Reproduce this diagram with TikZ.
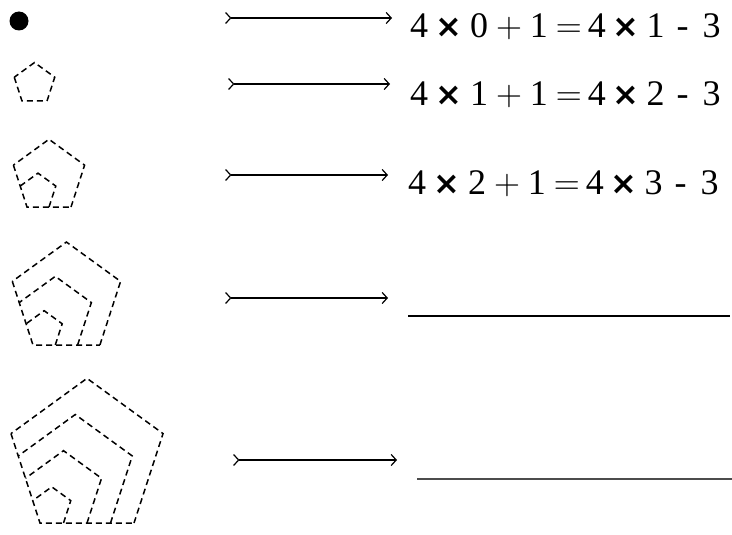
\RequirePackage{fix-cm}
\documentclass[tikz,border=0pt]{standalone}
\usepackage{fontspec}
\setmainfont{Liberation Serif}
\newfontfamily\symfont{DejaVu Sans}
\usetikzlibrary{
  positioning,
  arrows.meta
}
\newcommand{\tms}{{\symfont\bfseries\fontsize{32}{36}\selectfont ×}}
% 一行等式：4 x a + 1 = 4 x b - 3
\newcommand{\relline}[2]{4\hspace{7pt}\tms\hspace{8pt}#1\hspace{8pt}$+$\hspace{8pt}1%
  \hspace{8pt}$=$\hspace{6pt}4\hspace{7pt}\tms\hspace{7pt}#2\hspace{12pt}-\hspace{14pt}3}

\begin{document}
\begin{tikzpicture}[x=1pt,y=-1pt,
  font=\fontsize{36}{43}\selectfont,
  dashpen/.style={dash pattern=on 6pt off 4pt, line width=1.5pt},
  link/.style={{Straight Barb[reversed,length=5pt,width=11pt]}-{Straight Barb[length=5pt,width=11pt]},
    line width=1.2pt},
  blank/.style={line width=1.3pt},
  eq/.style={anchor=base west, inner sep=0pt}]
  \useasboundingbox (0,0) rectangle (732,535);

  % ---------- 点与五边形 ----------
  \fill (19,21) circle (9.5pt);
  % 共顶点（左下）的嵌套五边形：公共的两条边只画一次
  \foreach \n/\vx/\vy/\u in {1/22/101/25, 2/27/207/22, 3/33/345/22.3, 4/40/523/23.5} {
    \draw[dashpen] (\vx,\vy) ++(-108:\n*\u) -- (\vx,\vy) -- ++(0:\n*\u);
    \foreach \k in {1,...,\n}
      \draw[dashpen] (\vx,\vy) ++(0:\k*\u) -- ++(-72:\k*\u)
        -- ++(-144:\k*\u) -- ++(-216:\k*\u);
  }

  % ---------- 箭头 ----------
  \foreach \i/\ya/\xa/\xb in {1/18/225/392, 2/84/228/390, 3/175/225/388,
                              4/298/225/388, 5/460/233/397} {
    \coordinate (s\i) at (\xa,\ya);
    \coordinate (t\i) at (\xb,\ya);
    \draw[link] (s\i) -- (t\i);
  }

  % 等式
  \node[eq] (eq1) at (410,38)  {\relline{0}{1}};
  \node[eq] (eq2) at (410,106) {\relline{1}{2}};
  \node[eq] (eq3) at (408,194) {\relline{2}{3}};

  % 待填横线
  \coordinate (b4s) at (408,316);
  \coordinate (b4e) at (730,316);
  \coordinate (b5s) at (417,479);
  \coordinate (b5e) at (732,479);
  \draw[blank] (b4s) -- (b4e);
  \draw[blank,black!70] (b5s) -- (b5e);
\end{tikzpicture}
\end{document}
